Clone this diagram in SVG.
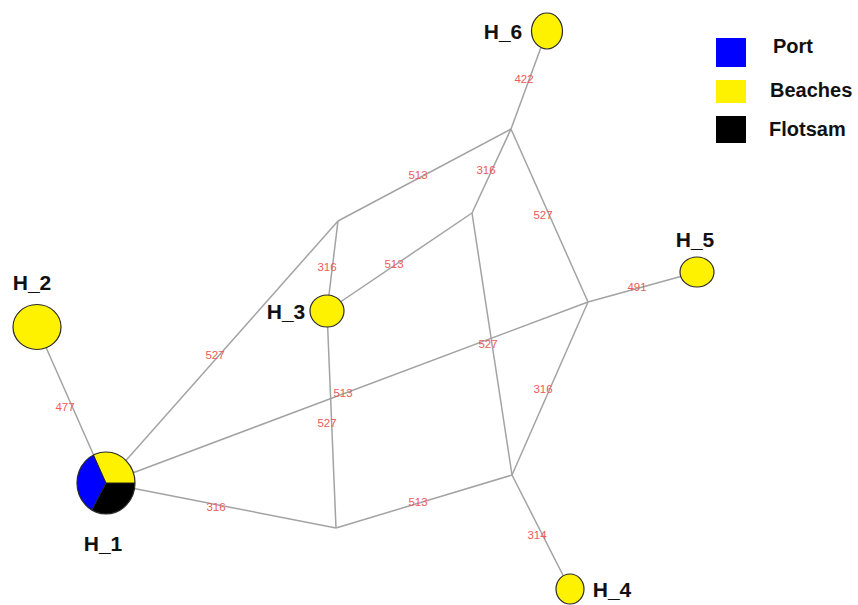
<svg xmlns="http://www.w3.org/2000/svg" width="858" height="605" viewBox="0 0 858 605">
<style>
.e{stroke:#a3a3a3;stroke-width:1.5;fill:none}
.w{font-family:"Liberation Sans",Arial,sans-serif;font-size:11.5px;fill:#ef5a5a;text-anchor:middle}
.n{stroke:#2a2a2a;stroke-width:1.2}
.y{fill:#fff200}
.t{font-family:"Liberation Sans",Arial,sans-serif;font-weight:bold;font-size:21px;fill:#111;text-anchor:middle}
.lg{font-family:"Liberation Sans",Arial,sans-serif;font-weight:bold;font-size:20px;fill:#111}
</style>
<rect width="858" height="605" fill="#fff"/>
<g id="connectors">
<line class="e" x1="547" y1="31" x2="511" y2="129"/>
<line class="e" x1="511" y1="129" x2="338" y2="221"/>
<line class="e" x1="511" y1="129" x2="472" y2="213"/>
<line class="e" x1="511" y1="129" x2="588" y2="302"/>
<line class="e" x1="338" y1="221" x2="327" y2="311"/>
<line class="e" x1="338" y1="221" x2="106" y2="483"/>
<line class="e" x1="472" y1="213" x2="327" y2="311"/>
<line class="e" x1="472" y1="213" x2="512" y2="475"/>
<line class="e" x1="588" y1="302" x2="697" y2="272"/>
<line class="e" x1="588" y1="302" x2="512" y2="475"/>
<line class="e" x1="106" y1="483" x2="588" y2="302"/>
<line class="e" x1="327" y1="311" x2="336" y2="528"/>
<line class="e" x1="106" y1="483" x2="336" y2="528"/>
<line class="e" x1="336" y1="528" x2="512" y2="475"/>
<line class="e" x1="512" y1="475" x2="570" y2="589"/>
<line class="e" x1="106" y1="483" x2="37" y2="327"/>
<text class="w" x="524" y="83">422</text>
<text class="w" x="418" y="179">513</text>
<text class="w" x="486" y="174">316</text>
<text class="w" x="543" y="219">527</text>
<text class="w" x="327" y="271">316</text>
<text class="w" x="215" y="359">527</text>
<text class="w" x="394" y="268">513</text>
<text class="w" x="488" y="348">527</text>
<text class="w" x="637" y="291">491</text>
<text class="w" x="543" y="393">316</text>
<text class="w" x="343" y="397">513</text>
<text class="w" x="327" y="427">527</text>
<text class="w" x="216" y="511">316</text>
<text class="w" x="418" y="506">513</text>
<text class="w" x="537" y="539">314</text>
<text class="w" x="65" y="411">477</text>
</g>
<g id="H_1">
<path d="M106,483 L93.5,455 A29,31 0 0,1 135,483 Z" fill="#fff200"/>
<path d="M106,483 L135,483 A29,31 0 0,1 91.9,510.1 Z" fill="#000"/>
<path d="M106,483 L91.9,510.1 A29,31 0 0,1 93.5,455 Z" fill="#0000ff"/>
<path d="M93.5,455 L106,483 L135,483 M106,483 L91.9,510.1" stroke="#222" stroke-width="1" fill="none"/>
<ellipse class="n" cx="106" cy="483" rx="29" ry="31" fill="none"/>
<text class="t" x="103" y="551">H_1</text>
</g>
<g id="H_2">
<ellipse class="n y" cx="37" cy="327" rx="24" ry="22.5"/>
<text class="t" x="32" y="290">H_2</text>
</g>
<g id="H_3">
<ellipse class="n y" cx="327" cy="311" rx="17" ry="16"/>
<text class="t" x="286" y="319">H_3</text>
</g>
<g id="H_4">
<ellipse class="n y" cx="570" cy="589" rx="14" ry="15"/>
<text class="t" x="612" y="597">H_4</text>
</g>
<g id="H_5">
<ellipse class="n y" cx="697" cy="272" rx="17" ry="15"/>
<text class="t" x="695" y="247">H_5</text>
</g>
<g id="H_6">
<ellipse class="n y" cx="547" cy="31" rx="15.5" ry="18"/>
<text class="t" x="503" y="39">H_6</text>
</g>
<g id="legend">
<rect x="716" y="38" width="30" height="29" fill="#0000ff"/>
<rect x="716" y="80" width="30" height="23" fill="#fff200"/>
<rect x="716" y="116" width="30" height="27" fill="#000"/>
<text class="lg" x="773" y="53">Port</text>
<text class="lg" x="770" y="97">Beaches</text>
<text class="lg" x="769" y="136">Flotsam</text>
</g>
</svg>
